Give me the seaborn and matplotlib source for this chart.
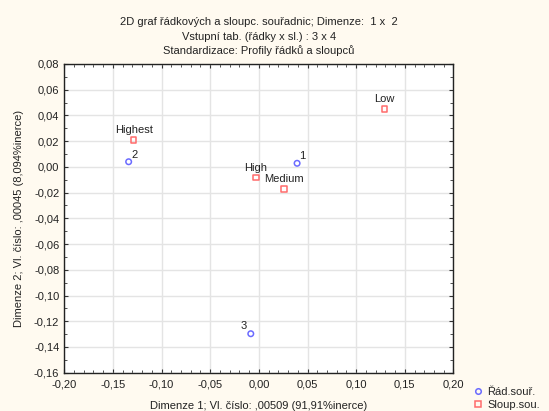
import numpy as np
import pandas as pd
import matplotlib
matplotlib.use("Agg")
import matplotlib.pyplot as plt
import seaborn as sns
from matplotlib.ticker import MultipleLocator, FuncFormatter

# Row coordinates (dimension 1, dimension 2)
row_labels = ["1", "2", "3"]
row_dim1 = [0.0393, -0.1338, -0.0083]
row_dim2 = [0.0028, 0.0040, -0.1297]

# Column coordinates
col_labels = ["Low", "Highest", "High", "Medium"]
col_dim1 = [0.1290, -0.1286, -0.0032, 0.0259]
col_dim2 = [0.0448, 0.0207, -0.0084, -0.0174]

series_names = ["Řád.souř.", "Sloup.sou."]

title_lines = [
    "2D graf řádkových a sloupc. souřadnic; Dimenze:  1 x  2",
    "Vstupní tab. (řádky x sl.) : 3 x 4",
    "Standardizace: Profily řádků a sloupců",
]
xlabel = "Dimenze 1; Vl. číslo: ,00509 (91,91%inerce)"
ylabel = "Dimenze 2; Vl. číslo: ,00045 (8,094%inerce)"

df = pd.DataFrame({
    "dim1": row_dim1 + col_dim1,
    "dim2": row_dim2 + col_dim2,
    "label": row_labels + col_labels,
    "kind": [series_names[0]] * len(row_labels) + [series_names[1]] * len(col_labels),
})

sns.set_style("white")
plt.rcParams["font.family"] = ["Liberation Sans", "DejaVu Sans"]
FS = 8.0
plt.rcParams["font.size"] = FS

bg = "#FFFAF0"
fig = plt.figure(figsize=(5.49, 4.11), dpi=100, facecolor=bg)
ax = fig.add_axes([0.117, 0.0932, 0.709, 0.7511])
ax.set_facecolor("white")

palette = {series_names[0]: "#6B6BFF", series_names[1]: "#FF6B6B"}
for name, marker in zip(series_names, ["o", "s"]):
    sub = df[df["kind"] == name]
    sns.scatterplot(data=sub, x="dim1", y="dim2", ax=ax, marker=marker,
                    facecolors="none", edgecolor=palette[name], linewidth=1.1,
                    s=16, label=name, zorder=3, legend=False)

# Point labels
row_offsets = {"1": (5, 7), "2": (6, 7), "3": (-7, 8)}
for _, r in df.iterrows():
    if r["kind"] == series_names[0]:
        dx, dy = row_offsets[r["label"]]
    else:
        dx, dy = 0, 10
    ax.annotate(r["label"], (r["dim1"], r["dim2"]), xytext=(dx, dy),
                textcoords="offset pixels", ha="center", va="center",
                fontsize=FS, color="#222222")

ax.set_xlim(-0.20, 0.20)
ax.set_ylim(-0.16, 0.08)
ax.xaxis.set_major_locator(MultipleLocator(0.05))
ax.xaxis.set_minor_locator(MultipleLocator(0.01))
ax.yaxis.set_major_locator(MultipleLocator(0.02))
ax.yaxis.set_minor_locator(MultipleLocator(0.01))
fmt = FuncFormatter(lambda v, p: f"{v:.2f}".replace(".", ",").replace("-0,00", "0,00"))
ax.xaxis.set_major_formatter(fmt)
ax.yaxis.set_major_formatter(fmt)
ax.grid(True, which="major", color="#E4E4E4", linewidth=1.0, zorder=0)
ax.set_axisbelow(True)
ax.tick_params(which="both", direction="in", top=True, right=True,
               bottom=True, left=True, colors="#333333", labelcolor="#222222",
               labelsize=FS)
ax.tick_params(which="major", length=3)
ax.tick_params(which="minor", length=2)
ax.tick_params(axis="x", which="major", pad=5)
for s in ax.spines.values():
    s.set_color("#222222")
    s.set_linewidth(1.0)

ax.set_xlabel(xlabel, fontsize=FS, color="#222222", labelpad=8)
ax.set_ylabel(ylabel, fontsize=FS, color="#222222", labelpad=7)

for i, line in enumerate(title_lines):
    fig.text(0.472, 1 - (22 + 14.5 * i) / 411, line, ha="center", va="center",
             fontsize=FS, color="#222222")

handles = [
    plt.Line2D([], [], marker="o", linestyle="none", markerfacecolor="none",
               markeredgecolor=palette[series_names[0]], markersize=4, mew=1.1),
    plt.Line2D([], [], marker="s", linestyle="none", markerfacecolor="none",
               markeredgecolor=palette[series_names[1]], markersize=4, mew=1.1),
]
fig.legend(handles, series_names, loc="center left",
           bbox_to_anchor=(472 / 549, 1 - 398.5 / 411), frameon=False,
           fontsize=FS, handletextpad=0.4, labelspacing=0.2,
           handlelength=1.0, borderaxespad=0.0, borderpad=0.0)

fig.savefig("out.png", dpi=100, facecolor=bg)
